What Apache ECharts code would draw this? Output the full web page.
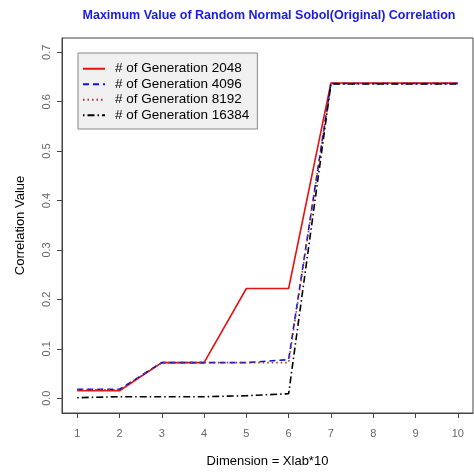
<!DOCTYPE html>
<html><head><meta charset="utf-8">
<script src="https://cdn.jsdelivr.net/npm/echarts@6/dist/echarts.min.js"></script>
<style>html,body{margin:0;padding:0;background:#fff}#c{width:474px;height:474px}</style>
</head><body><div id="c"></div>
<script>
const dims = [1, 2, 3, 4, 5, 6, 7, 8, 9, 10];
const gen2048 = [0.015, 0.015, 0.072, 0.072, 0.222, 0.222, 0.638, 0.638, 0.638, 0.638];
const gen4096 = [0.018, 0.018, 0.072, 0.072, 0.072, 0.078, 0.637, 0.637, 0.637, 0.637];
const gen8192 = [0.017, 0.017, 0.072, 0.072, 0.072, 0.072, 0.637, 0.637, 0.637, 0.637];
const gen16384 = [0.001, 0.003, 0.003, 0.003, 0.005, 0.009, 0.636, 0.636, 0.636, 0.636];
const yTicks = [0, 0.1, 0.2, 0.3, 0.4, 0.5, 0.6, 0.7];
const yTickLabels = ['0.0', '0.1', '0.2', '0.3', '0.4', '0.5', '0.6', '0.7'];
const names = ['# of Generation 2048', '# of Generation 4096', '# of Generation 8192', '# of Generation 16384'];

const font = 'Liberation Sans, Arial, sans-serif';
const pairs = arr => dims.map((d, i) => [d, arr[i]]);
const mk = (name, arr, color, type) => ({
  name, type: 'line', data: pairs(arr), symbol: 'none', animation: false,
  lineStyle: { color, width: 1.6, type }, itemStyle: { color }
});

const chart = echarts.init(document.getElementById('c'), null, { renderer: 'canvas' });
chart.setOption({
  backgroundColor: '#fff',
  animation: false,
  title: {
    text: 'Maximum Value of Random Normal Sobol(Original) Correlation',
    left: 264, top: 4, textAlign: 'center',
    textStyle: { color: '#1a1ae6', fontSize: 12.5, fontWeight: 'bold', fontFamily: font }
  },
  legend: {
    left: 78, top: 53, orient: 'vertical',
    backgroundColor: '#f0f0f0', borderColor: '#888', borderWidth: 1,
    padding: [8, 8, 6, 4], itemGap: 0, itemWidth: 22, itemHeight: 12,
    itemStyle: { opacity: 0 },
    textStyle: { fontSize: 13.5, lineHeight: 15.5, fontFamily: font, color: '#000', padding: [0, 0, 0, 5] },
    data: names
  },
  grid: { left: 62, right: 1, top: 38, bottom: 61, show: true, borderColor: '#444', borderWidth: 1, backgroundColor: 'transparent' },
  xAxis: {
    type: 'value', min: 0.64, max: 10.36,
    name: 'Dimension = Xlab*10', nameLocation: 'middle', nameGap: 42,
    nameTextStyle: { fontSize: 13, fontFamily: font, color: '#000' },
    axisLine: { show: true, onZero: false, lineStyle: { color: '#444' } },
    axisTick: { show: true, length: 5, customValues: dims, lineStyle: { color: '#444' } },
    axisLabel: { customValues: dims, margin: 15, fontSize: 11, fontFamily: font, color: '#666' },
    splitLine: { show: false }
  },
  yAxis: {
    type: 'value', min: -0.03, max: 0.729,
    name: 'Correlation Value', nameLocation: 'middle', nameGap: 35,
    nameTextStyle: { fontSize: 13, fontFamily: font, color: '#000' },
    axisLine: { show: true, onZero: false, lineStyle: { color: '#444' } },
    axisTick: { show: true, length: 5, customValues: yTicks, lineStyle: { color: '#444' } },
    axisLabel: { customValues: yTicks, rotate: 90, margin: 10, fontSize: 11, fontFamily: font, color: '#666',
      formatter: v => yTickLabels[yTicks.findIndex(t => Math.abs(t - v) < 1e-9)] ?? '' },
    splitLine: { show: false }
  },
  series: [
    mk(names[0], gen2048, '#e81010', 'solid'),
    mk(names[1], gen4096, '#1010e0', [6, 4]),
    mk(names[2], gen8192, '#b03030', [1.5, 3]),
    mk(names[3], gen16384, '#000', [1.5, 3, 7, 3])
  ]
});
</script></body></html>
